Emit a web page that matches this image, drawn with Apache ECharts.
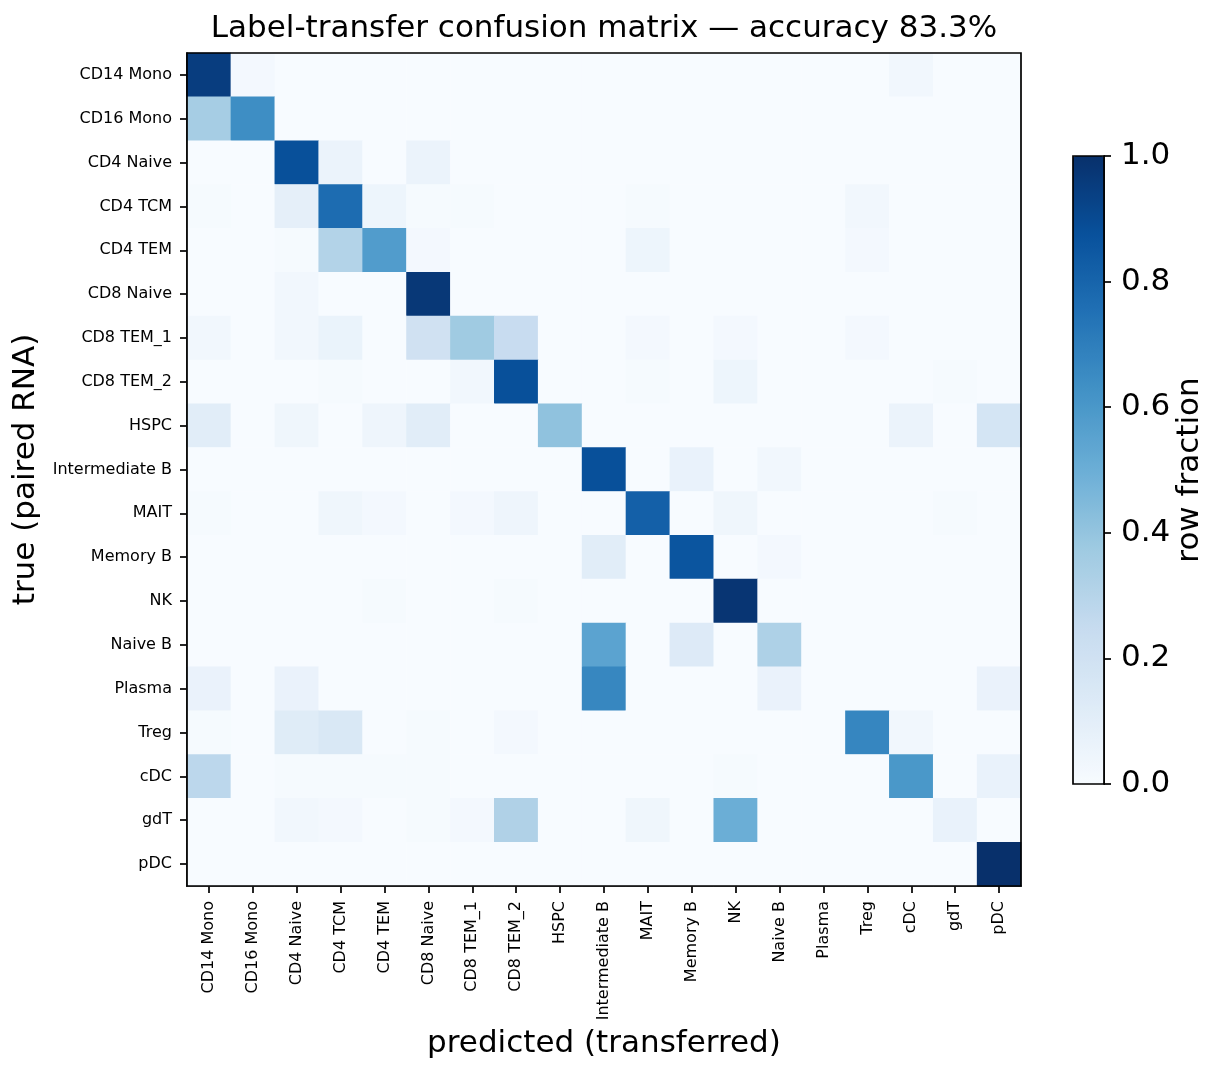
<!DOCTYPE html>
<html>
<head>
<meta charset="utf-8">
<script src="https://cdn.jsdelivr.net/npm/echarts@6/dist/echarts.min.js"></script>
<style>
  html, body { margin: 0; padding: 0; background: #fff; }
  #container { width: 1225px; height: 1074px; }
</style>
</head>
<body>
<div id="container"></div>
<script>
var dom = document.getElementById('container');
var myChart = echarts.init(dom, null, { renderer: 'canvas' });

// cell types (same order on both axes)
var cellTypes = ['CD14 Mono', 'CD16 Mono', 'CD4 Naive', 'CD4 TCM', 'CD4 TEM', 'CD8 Naive',
    'CD8 TEM_1', 'CD8 TEM_2', 'HSPC', 'Intermediate B', 'MAIT', 'Memory B', 'NK',
    'Naive B', 'Plasma', 'Treg', 'cDC', 'gdT', 'pDC'];

// row-normalised confusion matrix (rows = true, cols = predicted)
var rowFractions = [
    [0.95, 0.02, 0, 0, 0, 0, 0, 0, 0, 0, 0, 0, 0, 0, 0, 0, 0.03, 0, 0],
    [0.35, 0.64, 0, 0, 0, 0, 0, 0, 0, 0, 0, 0, 0, 0, 0, 0, 0, 0, 0],
    [0, 0, 0.88, 0.06, 0, 0.06, 0, 0, 0, 0, 0, 0, 0, 0, 0, 0, 0, 0, 0],
    [0.01, 0, 0.09, 0.77, 0.05, 0.01, 0.01, 0, 0, 0, 0.01, 0, 0, 0, 0, 0.03, 0, 0, 0],
    [0, 0, 0.01, 0.31, 0.58, 0.02, 0, 0, 0, 0, 0.05, 0, 0, 0, 0, 0.02, 0, 0, 0],
    [0, 0, 0.03, 0, 0, 0.97, 0, 0, 0, 0, 0, 0, 0, 0, 0, 0, 0, 0, 0],
    [0.03, 0, 0.03, 0.065, 0, 0.2, 0.37, 0.24, 0, 0, 0.02, 0, 0.02, 0, 0, 0.02, 0, 0, 0],
    [0, 0, 0, 0.01, 0, 0, 0.03, 0.88, 0, 0, 0.01, 0, 0.05, 0, 0, 0, 0, 0.01, 0],
    [0.11, 0, 0.04, 0, 0.045, 0.11, 0, 0, 0.41, 0, 0, 0, 0, 0, 0, 0, 0.06, 0, 0.175],
    [0, 0, 0, 0, 0, 0, 0, 0, 0, 0.88, 0, 0.07, 0, 0.03, 0, 0, 0, 0, 0],
    [0.01, 0, 0, 0.04, 0.02, 0, 0.02, 0.045, 0, 0, 0.815, 0, 0.04, 0, 0, 0, 0, 0.01, 0],
    [0, 0, 0, 0, 0, 0, 0, 0, 0, 0.11, 0, 0.86, 0, 0.02, 0, 0, 0, 0, 0],
    [0, 0, 0, 0, 0.01, 0, 0, 0.01, 0, 0, 0, 0, 0.98, 0, 0, 0, 0, 0, 0],
    [0, 0, 0, 0, 0, 0, 0, 0, 0, 0.55, 0, 0.13, 0, 0.325, 0, 0, 0, 0, 0],
    [0.067, 0, 0.067, 0, 0, 0, 0, 0, 0, 0.667, 0, 0, 0, 0.067, 0, 0, 0, 0, 0.067],
    [0.01, 0, 0.12, 0.15, 0, 0.01, 0, 0.02, 0, 0, 0, 0, 0, 0, 0, 0.67, 0.03, 0, 0],
    [0.28, 0, 0.01, 0.01, 0.01, 0.01, 0, 0, 0, 0, 0, 0, 0.01, 0, 0, 0, 0.6, 0, 0.07],
    [0, 0, 0.03, 0.02, 0, 0.01, 0.02, 0.32, 0, 0, 0.04, 0, 0.5, 0, 0, 0, 0, 0.07, 0],
    [0, 0, 0, 0, 0, 0, 0, 0, 0, 0, 0, 0, 0, 0, 0, 0, 0, 0, 1.0]
];

var accuracy = 83.3;
var colorbarTicks = [0, 0.2, 0.4, 0.6, 0.8, 1.0];

// matplotlib "Blues"
var blues = ['#f7fbff', '#deebf7', '#c6dbef', '#9ecae1', '#6baed6',
    '#4292c6', '#2171b5', '#08519c', '#08306b'];

var cells = [];
rowFractions.forEach(function (row, i) {
    row.forEach(function (v, j) {
        cells.push([j, i, v]);
    });
});

var font = 'DejaVu Sans';
var bigFont = 31;
var tickFont = 16;
var lineW = 1.7;

var option = {
    animation: false,
    backgroundColor: '#fff',
    textStyle: { fontFamily: font },
    title: {
        text: 'Label-transfer confusion matrix \u2014 accuracy ' + accuracy.toFixed(1) + '%',
        left: 604,
        textAlign: 'center',
        top: 13,
        padding: 0,
        textStyle: { fontFamily: font, fontSize: bigFont, fontWeight: 'normal', color: '#000' }
    },
    grid: [
        {
            left: 187, top: 53, width: 834, height: 833, z: 10,
            show: true, borderColor: '#000', borderWidth: lineW, backgroundColor: 'transparent'
        },
        {
            left: 1073, top: 156, width: 31, height: 628, z: 10,
            show: true, borderColor: '#000', borderWidth: lineW, backgroundColor: 'transparent'
        }
    ],
    xAxis: [
        {
            type: 'category',
            gridIndex: 0,
            data: cellTypes,
            name: 'predicted (transferred)',
            nameLocation: 'middle',
            nameGap: 140,
            nameTextStyle: { fontFamily: font, fontSize: bigFont, color: '#000' },
            axisLine: { show: true, lineStyle: { color: '#000', width: lineW } },
            axisTick: { show: true, alignWithLabel: true, interval: 0, length: 7, lineStyle: { color: '#000', width: lineW } },
            axisLabel: { rotate: 90, interval: 0, margin: 15, fontSize: tickFont, color: '#000', fontFamily: font },
            splitLine: { show: false },
            splitArea: { show: false }
        },
        {
            type: 'value', gridIndex: 1, min: 0, max: 1, show: false
        }
    ],
    yAxis: [
        {
            type: 'category',
            gridIndex: 0,
            data: cellTypes,
            inverse: true,
            name: 'true (paired RNA)',
            nameLocation: 'middle',
            nameRotate: 90,
            nameGap: 139,
            nameTextStyle: { fontFamily: font, fontSize: bigFont, color: '#000' },
            axisLine: { show: true, lineStyle: { color: '#000', width: lineW } },
            axisTick: { show: true, alignWithLabel: true, interval: 0, length: 7, lineStyle: { color: '#000', width: lineW } },
            axisLabel: { interval: 0, margin: 15, fontSize: tickFont, color: '#000', fontFamily: font },
            splitLine: { show: false },
            splitArea: { show: false }
        },
        {
            type: 'value',
            gridIndex: 1,
            position: 'right',
            min: colorbarTicks[0],
            max: colorbarTicks[colorbarTicks.length - 1],
            interval: 0.2,
            name: 'row fraction',
            nameLocation: 'middle',
            nameRotate: 90,
            nameGap: 70,
            nameTextStyle: { fontFamily: font, fontSize: bigFont, color: '#000' },
            axisLine: { show: true, onZero: false, lineStyle: { color: '#000', width: lineW } },
            axisTick: { show: true, length: 7, lineStyle: { color: '#000', width: lineW } },
            axisLabel: {
                show: true,
                margin: 17, fontSize: bigFont, color: '#000', fontFamily: font,
                formatter: function (v) { return v.toFixed(1); }
            },
            splitLine: { show: false }
        }
    ],
    visualMap: {
        type: 'continuous',
        min: 0,
        max: 1,
        seriesIndex: 0,
        calculable: false,
        hoverLink: false,
        orient: 'vertical',
        left: 1073,
        top: 156,
        padding: 0,
        itemWidth: 31,
        itemHeight: 628,
        inRange: { color: blues }
    },
    series: [
        {
            type: 'heatmap',
            xAxisIndex: 0,
            yAxisIndex: 0,
            data: cells,
            emphasis: { disabled: true },
            itemStyle: { borderWidth: 0 }
        },
        {
            type: 'scatter',
            xAxisIndex: 1,
            yAxisIndex: 1,
            data: [],
            silent: true
        }
    ]
};

myChart.setOption(option);
window.addEventListener('resize', myChart.resize);
</script>
</body>
</html>
